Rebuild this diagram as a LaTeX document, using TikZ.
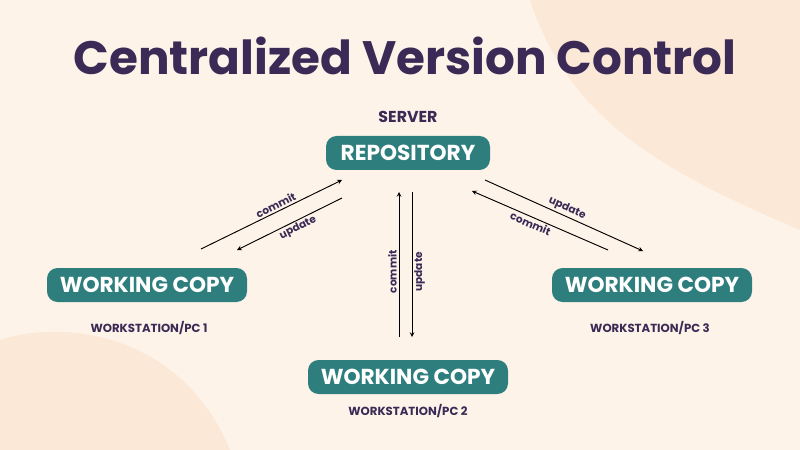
\documentclass[tikz,border=0pt]{standalone}
\usepackage{fontspec}
\setmainfont{Poppins}
\definecolor{bgcol}{HTML}{FDF3E9}
\definecolor{blobcol}{HTML}{FBE8D6}
\definecolor{titlecol}{HTML}{3A2A55}
\definecolor{boxcol}{HTML}{2F7E7E}
\tikzset{box/.style={fill=boxcol,text=white,rounded corners=9pt,minimum height=34*0.03cm,inner xsep=4pt,font=\fontsize{18.5}{20}\selectfont\bfseries}}
\tikzset{caption/.style={text=titlecol,font=\fontsize{10}{12}\selectfont\bfseries}}
\tikzset{lab/.style={text=titlecol,font=\fontsize{9}{10}\selectfont\bfseries,inner sep=1.5pt}}
\tikzset{edge/.style={-stealth,line width=0.8pt,black}}
\begin{document}
\begin{tikzpicture}[x=0.03cm,y=-0.03cm]
\useasboundingbox (0,0) rectangle (800,450);
\fill[bgcol] (0,0) rectangle (800,450);
\fill[blobcol] (530,0) .. controls (570,120) and (660,170) .. (800,230) -- (800,0) -- cycle;
\fill[blobcol] (0,340) .. controls (60,320) and (180,330) .. (230,450) -- (0,450) -- cycle;

\node[text=titlecol,font=\fontsize{40}{46}\selectfont\bfseries] (title) at (405,56) {Centralized Version Control};

\node[box,minimum width=164*0.03cm] (repo) at (408,153) {REPOSITORY};
\node[caption,font=\fontsize{13.5}{15}\selectfont\bfseries] (server) at (408,117) {SERVER};
\node[box,minimum width=200*0.03cm] (wc1) at (147,285) {WORKING COPY};
\node[box,minimum width=200*0.03cm] (wc3) at (652,285) {WORKING COPY};
\node[box,minimum width=200*0.03cm] (wc2) at (408,377) {WORKING COPY};
\node[caption] (pc1) at (149,328) {WORKSTATION/PC 1};
\node[caption] (pc3) at (650,328) {WORKSTATION/PC 3};
\node[caption] (pc2) at (408,411) {WORKSTATION/PC 2};

\coordinate (a1) at (201,249); \coordinate (a2) at (342,180);
\coordinate (b1) at (342,198); \coordinate (b2) at (237,250);
\coordinate (c1) at (399,337); \coordinate (c2) at (399,192);
\coordinate (d1) at (412,192); \coordinate (d2) at (412,337);
\coordinate (e1) at (485,180); \coordinate (e2) at (643,251);
\coordinate (f1) at (608,250); \coordinate (f2) at (472,191);

\draw[edge] (a1) -- node[lab,sloped,above,pos=0.55] {commit} (a2);
\draw[edge] (b1) -- node[lab,sloped,below,pos=0.45] {update} (b2);
\draw[edge] (c1) -- node[lab,rotate=90,left,anchor=south,pos=0.45] {commit} (c2);
\draw[edge] (d1) -- node[lab,rotate=90,anchor=north,pos=0.55] {update} (d2);
\draw[edge] (e1) -- node[lab,sloped,above,pos=0.5] {update} (e2);
\draw[edge] (f1) -- node[lab,sloped,below,pos=0.55] {commit} (f2);
\end{tikzpicture}
\end{document}
